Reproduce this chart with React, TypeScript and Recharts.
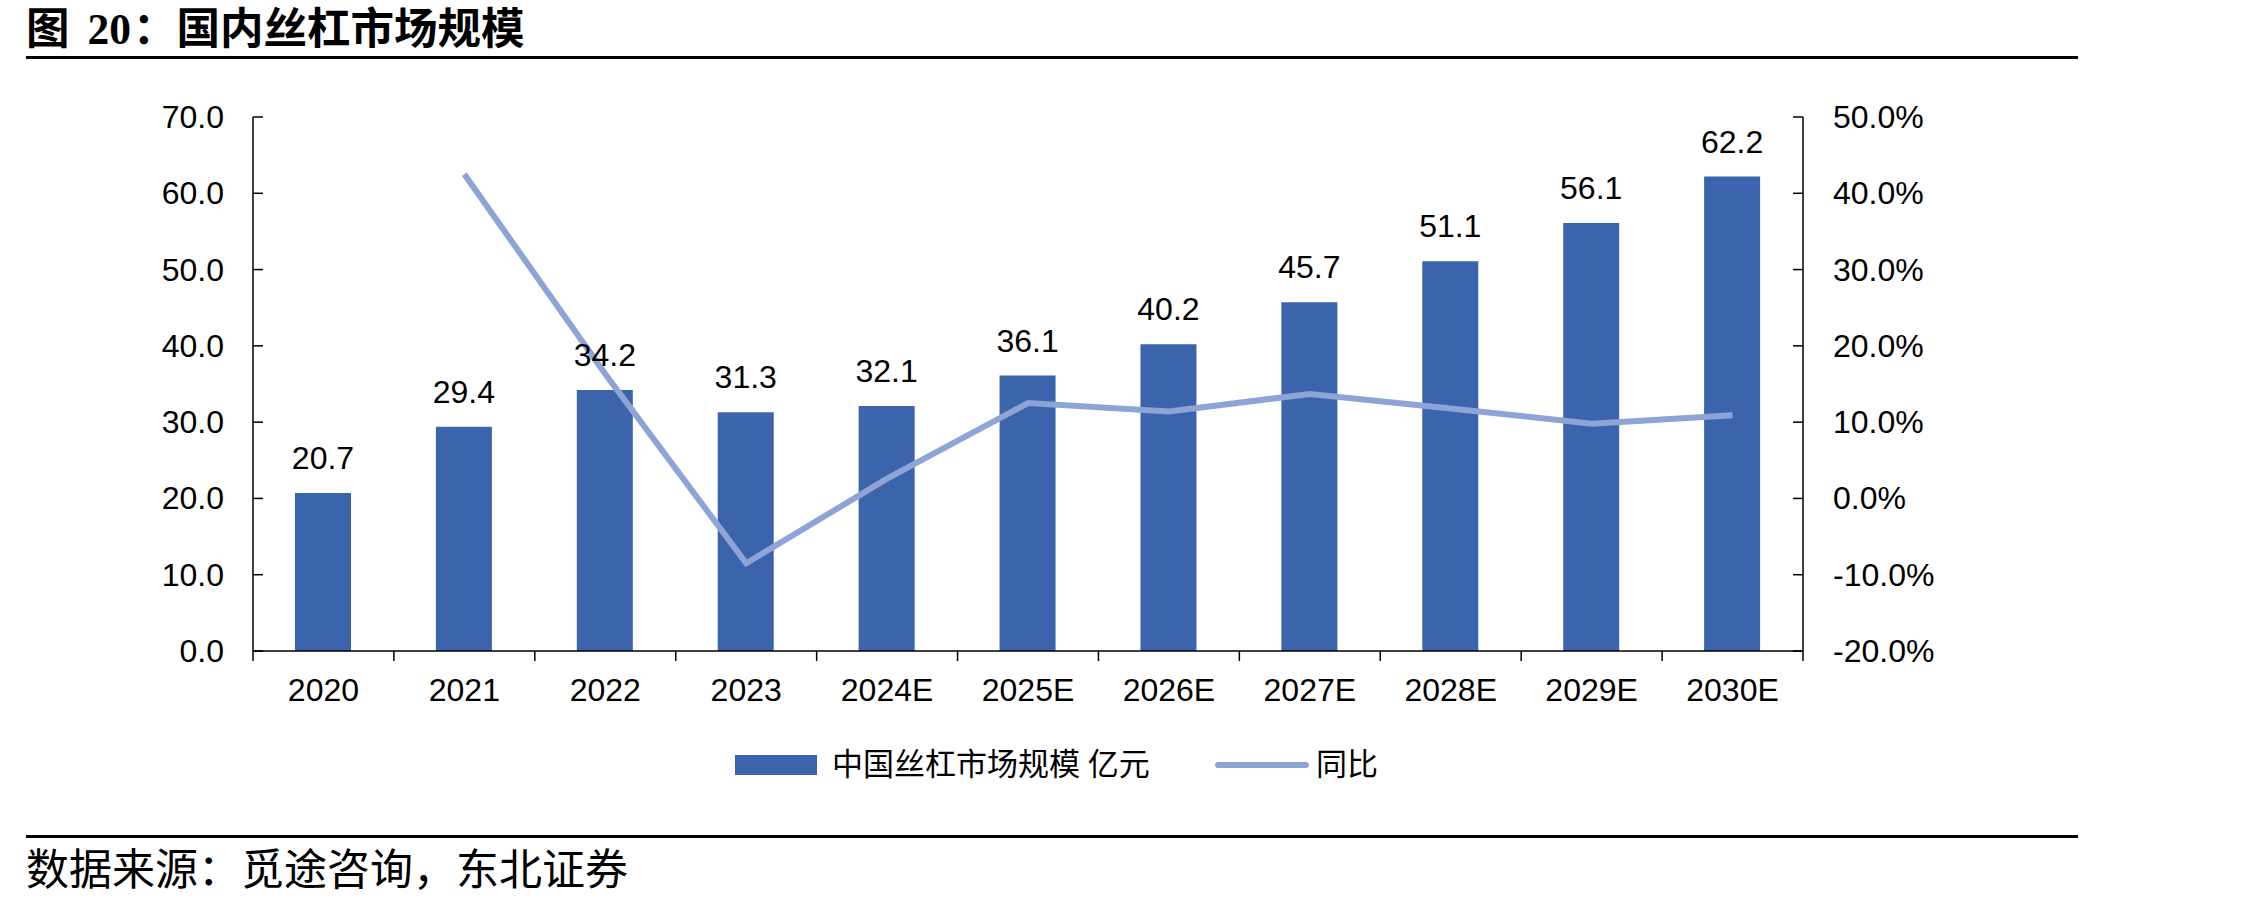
import React from 'react';
import { Bar, ComposedChart, LabelList, Line, XAxis, YAxis } from 'recharts';

const years = ['2020', '2021', '2022', '2023', '2024E', '2025E', '2026E', '2027E', '2028E', '2029E', '2030E'];
const marketSize = [20.7, 29.4, 34.2, 31.3, 32.1, 36.1, 40.2, 45.7, 51.1, 56.1, 62.2];
const yoyGrowth = [null, 42.5, 16.3, -8.5, 2.6, 12.5, 11.4, 13.7, 11.8, 9.8, 10.9];
const leftTicks = [0, 10, 20, 30, 40, 50, 60, 70];
const rightTicks = [-20, -10, 0, 10, 20, 30, 40, 50];

const data = years.map((year, i) => ({ year, size: marketSize[i], yoy: yoyGrowth[i] }));

const W = 2268;
const H = 903;
const PLOT_LEFT = 253;
const PLOT_RIGHT = 1803;
const PLOT_TOP = 117;
const PLOT_BOTTOM = 651;
const BAND = (PLOT_RIGHT - PLOT_LEFT) / years.length;

const BAR_COLOR = '#3C64AC';
const LINE_COLOR = '#8EA4D6';
const NUM_FONT = '"Liberation Sans", Arial, sans-serif';
const CJK_FONT = '"Liberation Serif", "Noto Sans CJK SC", serif';

const LeftTick = (props: any) => {
  const { y, payload } = props;
  return (
    <g>
      <line x1={PLOT_LEFT} x2={PLOT_LEFT + 10} y1={y} y2={y} stroke="#000" strokeWidth={1.5} />
      <text x={PLOT_LEFT - 29} y={y + 11} textAnchor="end" fontSize={32} fontFamily={NUM_FONT} fill="#000">
        {Number(payload.value).toFixed(1)}
      </text>
    </g>
  );
};

const RightTick = (props: any) => {
  const { y, payload } = props;
  return (
    <g>
      <line x1={PLOT_RIGHT - 10} x2={PLOT_RIGHT} y1={y} y2={y} stroke="#000" strokeWidth={1.5} />
      <text x={PLOT_RIGHT + 30} y={y + 11} textAnchor="start" fontSize={32} fontFamily={NUM_FONT} fill="#000">
        {Number(payload.value).toFixed(1) + '%'}
      </text>
    </g>
  );
};

const BottomTick = (props: any) => {
  const { x, payload, index } = props;
  const left = x - BAND / 2;
  const right = x + BAND / 2;
  return (
    <g>
      <line x1={left} x2={left} y1={PLOT_BOTTOM} y2={PLOT_BOTTOM + 10} stroke="#000" strokeWidth={1.5} />
      {index === years.length - 1 && (
        <line x1={right} x2={right} y1={PLOT_BOTTOM} y2={PLOT_BOTTOM + 10} stroke="#000" strokeWidth={1.5} />
      )}
      <text x={x} y={PLOT_BOTTOM + 50} textAnchor="middle" fontSize={32} fontFamily={NUM_FONT} fill="#000">
        {payload.value}
      </text>
    </g>
  );
};

const App = () => {
  return (
    <div style={{ position: 'absolute', left: 0, top: 0, width: W, height: H, background: '#fff', overflow: 'hidden' }}>
      <ComposedChart
        width={W}
        height={H}
        data={data}
        margin={{ top: PLOT_TOP, left: PLOT_LEFT - 100, right: W - PLOT_RIGHT - 120, bottom: H - PLOT_BOTTOM - 60 }}
      >
        <XAxis
          dataKey="year"
          interval={0}
          height={60}
          tickLine={false}
          tickSize={0}
          tickMargin={0}
          axisLine={{ stroke: '#000', strokeWidth: 1.5 }}
          tick={<BottomTick />}
        />
        <YAxis
          yAxisId="left"
          width={100}
          domain={[0, 70]}
          ticks={leftTicks}
          interval={0}
          tickLine={false}
          tickSize={0}
          tickMargin={0}
          axisLine={{ stroke: '#000', strokeWidth: 1.5 }}
          tick={<LeftTick />}
        />
        <YAxis
          yAxisId="right"
          orientation="right"
          width={120}
          domain={[-20, 50]}
          ticks={rightTicks}
          interval={0}
          tickLine={false}
          tickSize={0}
          tickMargin={0}
          axisLine={{ stroke: '#000', strokeWidth: 1.5 }}
          tick={<RightTick />}
        />
        <Bar yAxisId="left" dataKey="size" fill={BAR_COLOR} barSize={56} isAnimationActive={false}>
          <LabelList
            dataKey="size"
            position="top"
            offset={24}
            fill="#000"
            fontSize={32}
            fontFamily={NUM_FONT}
            formatter={(v: any) => Number(v).toFixed(1)}
          />
        </Bar>
        <Line
          yAxisId="right"
          dataKey="yoy"
          type="linear"
          stroke={LINE_COLOR}
          strokeWidth={6}
          dot={false}
          activeDot={false}
          isAnimationActive={false}
        />
      </ComposedChart>

      <div style={{ position: 'absolute', left: 26, top: 7, fontSize: 43.5, lineHeight: '44px', fontWeight: 700, fontFamily: CJK_FONT, color: '#000', whiteSpace: 'nowrap' }}>
        图<span style={{ marginLeft: 18 }}>20</span><span style={{ marginLeft: 2 }}>：</span>国内丝杠市场规模
      </div>
      <div style={{ position: 'absolute', left: 26, top: 56, width: 2052, height: 2.5, background: '#000' }} />

      <div style={{ position: 'absolute', left: 735, top: 755, width: 82, height: 20, background: BAR_COLOR }} />
      <div style={{ position: 'absolute', left: 832, top: 748, fontSize: 31, lineHeight: '34px', fontFamily: CJK_FONT, color: '#000', whiteSpace: 'nowrap' }}>
        中国丝杠市场规模 亿元
      </div>
      <div style={{ position: 'absolute', left: 1215, top: 762, width: 94, height: 6, borderRadius: 3, background: LINE_COLOR }} />
      <div style={{ position: 'absolute', left: 1316, top: 748, fontSize: 31, lineHeight: '34px', fontFamily: CJK_FONT, color: '#000', whiteSpace: 'nowrap' }}>
        同比
      </div>

      <div style={{ position: 'absolute', left: 26, top: 835, width: 2052, height: 2.5, background: '#000' }} />
      <div style={{ position: 'absolute', left: 26, top: 849, fontSize: 43, lineHeight: '44px', fontFamily: CJK_FONT, color: '#000', whiteSpace: 'nowrap' }}>
        数据来源：觅途咨询，东北证券
      </div>
    </div>
  );
};

export default App;
